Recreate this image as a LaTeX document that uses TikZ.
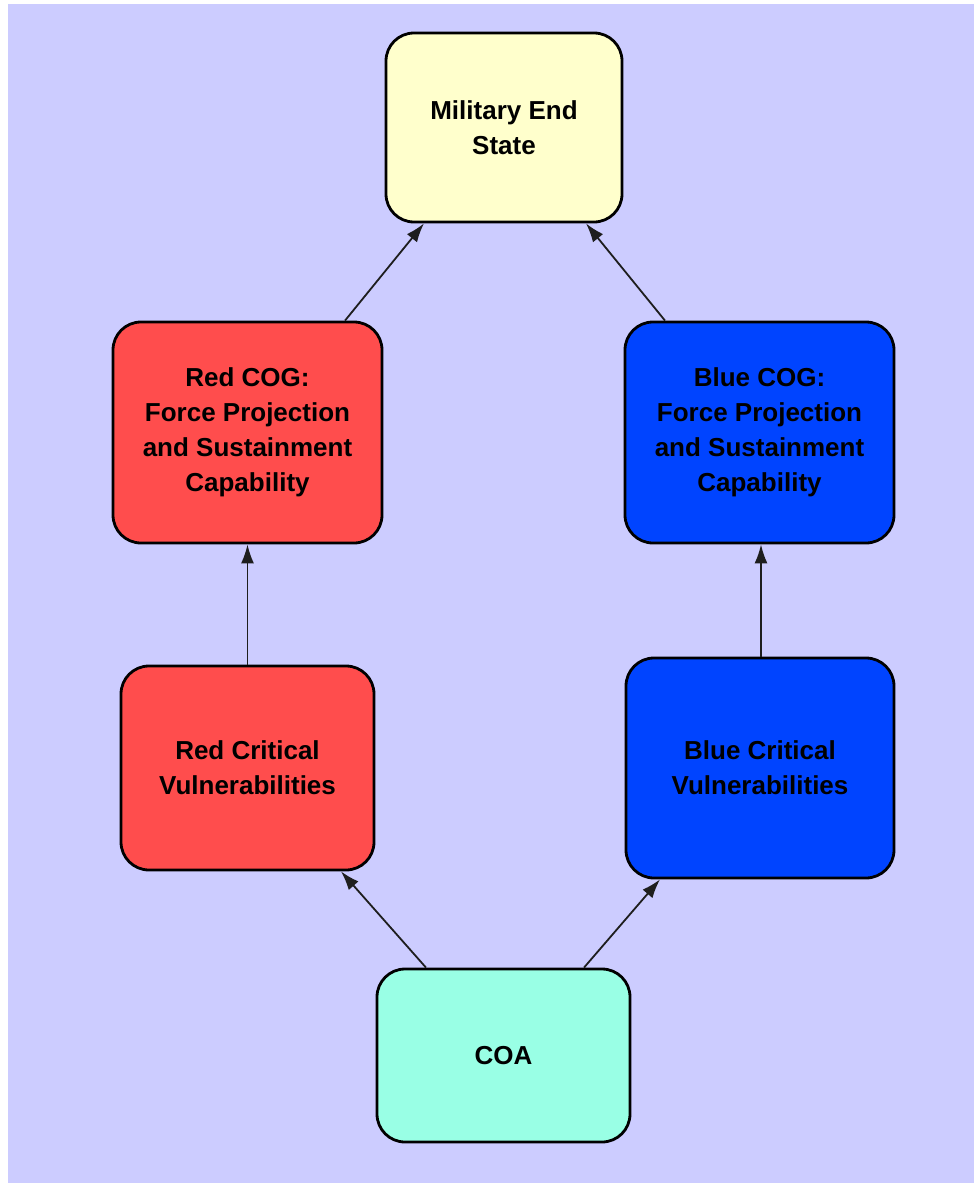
\documentclass[tikz,border=0pt]{standalone}
\usepackage{fontspec}
\setmainfont{Liberation Sans}
\usetikzlibrary{arrows.meta}
\definecolor{bgpanel}{RGB}{204,204,255}
\definecolor{endfill}{RGB}{255,255,204}
\definecolor{redfill}{RGB}{255,77,77}
\definecolor{bluefill}{RGB}{0,68,255}
\definecolor{coafill}{RGB}{153,255,229}
\definecolor{linkcol}{RGB}{30,30,30}
\begin{document}
\begin{tikzpicture}[x=1pt,y=-1pt,
  box/.style={draw=black, line width=2.8pt, rounded corners=28pt,
    align=center, inner sep=0pt,
    font=\fontsize{26}{35}\selectfont\bfseries},
  arr/.style={draw=linkcol, line width=1.8pt, -{Latex[length=19pt,width=13pt]}}]
  % page and panel
  \fill[white] (0,0) rectangle (974,1183);
  \fill[bgpanel] (8,4) rectangle (974,1183);
  \useasboundingbox (0,0) rectangle (974,1183);

  % boxes
  \node[box, fill=endfill, minimum width=236pt, minimum height=189pt]
    (mes) at (504,127.5) {Military End\\State};
  \node[box, fill=redfill, minimum width=269pt, minimum height=221pt]
    (rcog) at (247.5,432.5) {Red COG:\\Force Projection\\and Sustainment\\Capability};
  \node[box, fill=bluefill, minimum width=269pt, minimum height=221pt]
    (bcog) at (759.5,432.5) {Blue COG:\\Force Projection\\and Sustainment\\Capability};
  \node[box, fill=redfill, minimum width=253pt, minimum height=204pt]
    (rcv) at (247.5,768) {Red Critical\\Vulnerabilities};
  \node[box, fill=bluefill, minimum width=268pt, minimum height=220pt]
    (bcv) at (760,768) {Blue Critical\\Vulnerabilities};
  \node[box, fill=coafill, minimum width=253pt, minimum height=173pt]
    (coa) at (503.5,1055.5) {COA};

  % links
  \draw[arr] (rcog.north -| 345,0) -- (mes.south -| 424,0);
  \draw[arr] (bcog.north -| 665,0) -- (mes.south -| 586,0);
  \draw[arr] (rcv.north) -- (rcog.south);
  \draw[arr] (bcv.north -| 761,0) -- (bcog.south -| 761,0);
  \draw[arr] (coa.north -| 426,0) -- (rcv.south -| 341,0);
  \draw[arr] (coa.north -| 584,0) -- (bcv.south -| 660,0);
\end{tikzpicture}
\end{document}
